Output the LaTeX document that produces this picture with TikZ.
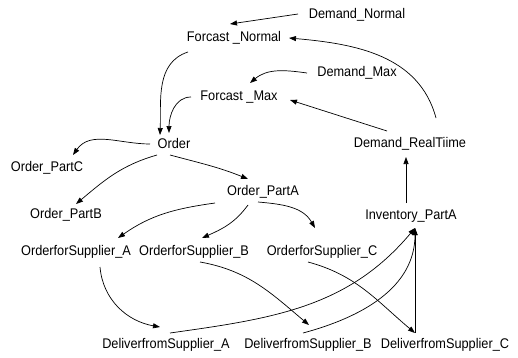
\documentclass[tikz,border=0pt]{standalone}
\usepackage{fontspec}
\setmainfont{Liberation Sans}[FakeStretch=0.91]
\usetikzlibrary{arrows.meta, calc}
\tikzset{
  var/.style={draw=none, inner sep=1pt, text height=10pt, text depth=3pt,
    font=\fontsize{14}{16}\selectfont},
  link/.style={-{Triangle[length=7pt,width=5pt]}, line width=0.7pt}
}
\begin{document}
\begin{tikzpicture}[x=1pt,y=1pt]
\useasboundingbox (0,0) rectangle (518,357);

\node [var] (dn) at (357,342) {Demand\_Normal};
\node [var] (fn) at (234,319) {Forcast \_Normal};
\node [var] (dm) at (357,284) {Demand\_Max};
\node [var] (fm) at (239,260) {Forcast \_Max};
\node [var] (ord) at (174,212) {Order};
\node [var] (drt) at (410,213) {Demand\_RealTiime};

\node [var] (opc) at (47,189) {Order\_PartC};
\node [var] (opb) at (66,142) {Order\_PartB};
\node [var] (opa) at (263,165) {Order\_PartA};
\node [var] (inv) at (411,141) {Inventory\_PartA};

\node [var] (osa) at (76,105) {OrderforSupplier\_A};
\node [var] (osb) at (194,105) {OrderforSupplier\_B};
\node [var] (osc) at (322,105) {OrderforSupplier\_C};

\node [var] (dsa) at (166,12) {DeliverfromSupplier\_A};
\node [var] (dsb) at (308,12) {DeliverfromSupplier\_B};
\node [var] (dsc) at (445,12) {DeliverfromSupplier\_C};

% forecasts
\draw [link] ($(dn)+(-59,1)$) -- ($(fn)+(-4,14)$);
\draw [link] ($(drt)+(26,26)$) to[out=105,in=-5] ($(fn)+(55,0)$);
\draw [link] ($(dm)+(-50,0)$) to[out=172,in=40] ($(fm)+(11,14)$);
\draw [link] ($(drt)+(-23,13)$) -- ($(fm)+(51,-3)$);
\draw [link] ($(fn)+(-46,-14)$) to[out=198,in=88] ($(ord)+(-14,10)$);
\draw [link] ($(fm)+(-48,0)$) to[out=180,in=90] ($(ord)+(-5,12)$);

% orders
\draw [link] ($(ord)+(-24,1)$) to[out=180,in=55] ($(opc)+(26,13)$);
\draw [link] ($(ord)+(-17,-10)$) to[out=196,in=40] ($(opb)+(10,11)$);
\draw [link] ($(ord)+(-4,-10)$) to[out=-15,in=158] ($(opa)+(-15,13)$);
\draw [link] ($(opa)+(-48,-11)$) to[out=188,in=35] ($(osa)+(42,14)$);
\draw [link] ($(opa)+(-15,-13)$) to[out=234,in=24] ($(osb)+(8,14)$);
\draw [link] ($(opa)+(-5,-10)$) to[out=-5,in=120] ($(osc)+(-7,24)$);

% deliveries
\draw [link] ($(osa)+(24,-15)$) to[out=-85,in=170] ($(dsa)+(-6,18)$);
\draw [link] ($(osb)+(6,-10)$) to[out=-10,in=140] ($(dsb)+(1,20)$);
\draw [link] ($(osc)+(-14,-10)$) to[out=-15,in=140] ($(dsc)+(-30,12)$);

% inventory
\draw [link] ($(dsa)+(4,12)$) to[out=8,in=230] ($(inv)+(4,-12)$);
\draw [link] ($(dsb)+(-5,12)$) to[out=15,in=-90] ($(inv)+(4,-12)$);
\draw [link] ($(dsc)+(-30,12)$) -- ($(inv)+(4,-12)$);
\draw [link] ($(inv)+(-5,13)$) -- ($(drt)+(-4,-13)$);

\end{tikzpicture}
\end{document}
